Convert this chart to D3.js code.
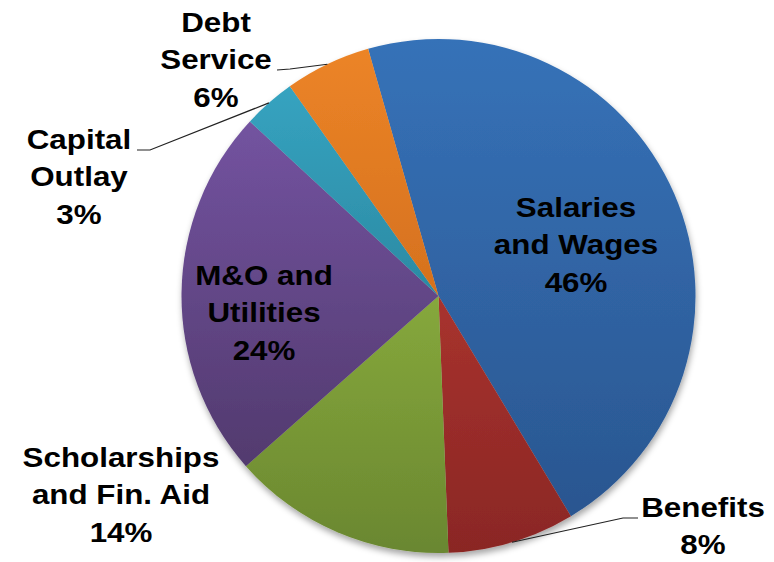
<!DOCTYPE html>
<html>
<head>
<meta charset="utf-8">
<script src="https://cdn.jsdelivr.net/npm/d3@7/dist/d3.min.js"></script>
<style>
  body { margin: 0; background: #fff; }
  svg { display: block; }
  text { font-family: "Liberation Sans", Arial, sans-serif; font-weight: bold; fill: #000; }
</style>
</head>
<body>
<svg id="chart"></svg>
<script>
// budget shares (labels show rounded values)
const categories = ["Salaries and Wages", "Benefits", "Scholarships and Fin. Aid", "M&O and Utilities", "Capital Outlay", "Debt Service"];
const shares = [45.8, 8.0, 14.1, 23.4, 3.3, 5.4];
const pctLabels = ["46%", "8%", "14%", "24%", "3%", "6%"];
const labelLines = [["Salaries", "and Wages"], ["Benefits"], ["Scholarships", "and Fin. Aid"], ["M&O and", "Utilities"], ["Capital", "Outlay"], ["Debt", "Service"]];

const topColors = ["#3672b8", "#a8322e", "#86a83c", "#7353a0", "#36a3c0", "#ec8427"];
const bottomColors = ["#2a5690", "#8a2724", "#6a8730", "#523a6e", "#2b8aa3", "#d5711e"];

const width = 774, height = 562;
const cx = 438.5, cy = 296, radius = 257;

const svg = d3.select("#chart").attr("width", width).attr("height", height);
const defs = svg.append("defs");

// soft shadow under the pie
const shadow = defs.append("filter").attr("id", "shadow")
    .attr("x", "-10%").attr("y", "-10%").attr("width", "120%").attr("height", "120%");
shadow.append("feDropShadow")
    .attr("dx", 1).attr("dy", 4).attr("stdDeviation", 3)
    .attr("flood-color", "#000").attr("flood-opacity", 0.35);

categories.forEach((c, i) => {
    const g = defs.append("linearGradient").attr("id", "grad" + i)
        .attr("x1", 0).attr("y1", 0).attr("x2", 0).attr("y2", 1);
    g.append("stop").attr("offset", "0%").attr("stop-color", topColors[i]);
    g.append("stop").attr("offset", "100%").attr("stop-color", bottomColors[i]);
});

const pie = d3.pie().sort(null)
    .startAngle(-15.9 * Math.PI / 180)
    .endAngle((360 - 15.9) * Math.PI / 180);
const arcs = pie(shares);

const arc = d3.arc().innerRadius(0).outerRadius(radius);
const edgeArc = d3.arc().innerRadius(radius).outerRadius(radius);

const gPie = svg.append("g")
    .attr("transform", `translate(${cx},${cy})`)
    .attr("filter", "url(#shadow)");

gPie.selectAll("path")
    .data(arcs)
    .enter()
    .append("path")
    .attr("d", arc)
    .attr("fill", (d, i) => `url(#grad${i})`);

// label layout, relative to the pie centre: x of text centre, baseline of first line
const labelSpots = [
    { dx: 137.5, dy: -79 },
    { dx: 264.5, dy: 221 },
    { dx: -317.5, dy: 171 },
    { dx: -174.5, dy: -11 },
    { dx: -359.5, dy: -147 },
    { dx: -222.5, dy: -264 }
];
// leader lines: elbow start and elbow, relative to centre (null = label inside slice)
const leaders = [
    null,
    [[199.5, 222], [184.5, 222]],
    null,
    null,
    [[-301.5, -146], [-288.5, -146]],
    [[-161.5, -226], [-148.5, -227]]
];

const gLabels = svg.append("g").attr("transform", `translate(${cx},${cy})`);

arcs.forEach((d, i) => {
    if (leaders[i]) {
        const end = edgeArc.centroid(d);
        const pts = leaders[i].concat([end]);
        gLabels.append("path")
            .attr("d", d3.line()(pts))
            .attr("fill", "none")
            .attr("stroke", "#222")
            .attr("stroke-width", 1.2);
    }
    const spot = labelSpots[i];
    const lines = labelLines[i].concat([pctLabels[i]]);
    const t = gLabels.append("text")
        .attr("text-anchor", "middle")
        .attr("font-size", 28)
        .attr("transform", `translate(${spot.dx},${spot.dy}) scale(1.12,1)`);
    lines.forEach((ln, k) => {
        t.append("tspan")
            .attr("x", 0)
            .attr("y", k * 37.5)
            .text(ln);
    });
});
</script>
</body>
</html>
